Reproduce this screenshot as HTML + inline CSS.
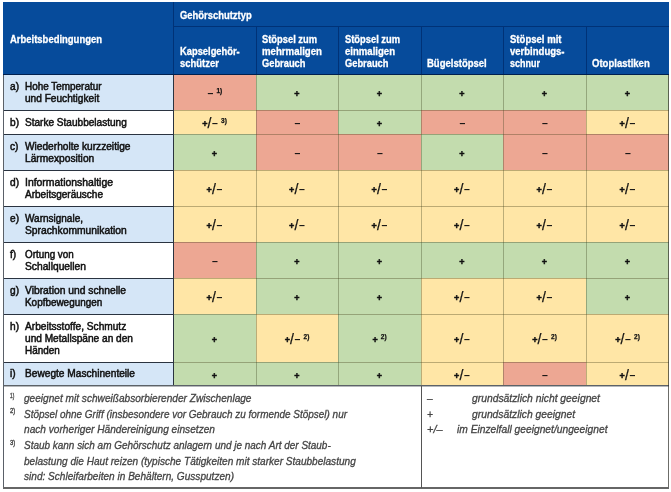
<!DOCTYPE html>
<html lang="de">
<head>
<meta charset="utf-8">
<title>Eignung von Gehörschutztypen nach Arbeitsbedingungen</title>
<style>
html,body{margin:0;padding:0;background:#fff;}
body{width:671px;height:492px;position:relative;overflow:hidden;font-family:"Liberation Sans",sans-serif;font-size:10px;line-height:12px;color:#111;}
.tbl{position:absolute;left:0;top:0;width:671px;height:492px;}
.box,.h,.t,.f,.n,.s,.ln{position:absolute;display:block;}
.h,.t,.f,.n,.s{white-space:nowrap;line-height:12px;transform-origin:0 0;}
.r{background:#eda793;}
.g{background:#c3dcae;}
.y{background:#ffe6a6;}
.b{background:#d5e6f7;}
.hd{background:#064b9b;}
.h{color:#fff;font-weight:bold;font-size:10.6px;-webkit-text-stroke:0.3px #fff;}
.t{color:#111;font-size:10.2px;-webkit-text-stroke:0.5px #111;}
.s{font-weight:bold;text-align:center;color:#111;font-size:10.5px;}
.s i{font-style:normal;font-size:9px;-webkit-text-stroke:0.45px #111;position:relative;top:0.2px;}
.s b{font-size:14px;font-weight:normal;-webkit-text-stroke:0.25px #111;line-height:0;position:relative;top:0.6px;margin:0 0 0 0.2px;}
.s u{text-decoration:none;margin-left:0.6px;}
.s sup{font-size:6.5px;line-height:0;vertical-align:4.3px;margin-left:3.2px;-webkit-text-stroke:0.25px #111;}
.f{font-style:italic;color:#444;font-size:10.6px;-webkit-text-stroke:0.3px #444;}
.n{color:#4a4a4a;font-size:8px;-webkit-text-stroke:0.4px #4a4a4a;}
</style>
</head>
<body>
<main class="tbl" role="table" aria-label="Eignung von Gehörschutztypen nach Arbeitsbedingungen">
<div class="hd box" role="rowgroup" style="left:3px;top:2px;width:666px;height:73px">
<div class="box" role="columnheader" style="left:0;top:0;width:170px;height:72px"><span class="h" style="left:6.5px;top:31px;transform:scaleX(0.8932)">Arbeitsbedingungen</span></div>
<div class="box" role="columnheader" style="left:170px;top:0;width:496px;height:24px"><span class="h" style="left:6.5px;top:7px;transform:scaleX(0.8891)">Gehörschutztyp</span></div>
<div class="box" role="columnheader" style="left:170px;top:24px;width:83px;height:48px"><span class="h" style="left:6.5px;top:19px;transform:scaleX(0.8818)">Kapselgehör-</span><span class="h" style="left:6.5px;top:31px;transform:scaleX(0.8912)">schützer</span></div>
<div class="box" role="columnheader" style="left:253px;top:24px;width:82px;height:48px"><span class="h" style="left:6px;top:7px;transform:scaleX(0.8813)">Stöpsel zum</span><span class="h" style="left:6px;top:19px;transform:scaleX(0.9100)">mehrmaligen</span><span class="h" style="left:6px;top:31px;transform:scaleX(0.8796)">Gebrauch</span></div>
<div class="box" role="columnheader" style="left:335px;top:24px;width:83px;height:48px"><span class="h" style="left:6.5px;top:7px;transform:scaleX(0.8813)">Stöpsel zum</span><span class="h" style="left:6.5px;top:19px;transform:scaleX(0.9034)">einmaligen</span><span class="h" style="left:6.5px;top:31px;transform:scaleX(0.8796)">Gebrauch</span></div>
<div class="box" role="columnheader" style="left:418px;top:24px;width:82px;height:48px"><span class="h" style="left:6px;top:31px;transform:scaleX(0.8981)">Bügelstöpsel</span></div>
<div class="box" role="columnheader" style="left:500px;top:24px;width:83px;height:48px"><span class="h" style="left:6.5px;top:7px;transform:scaleX(0.9018)">Stöpsel mit</span><span class="h" style="left:6.5px;top:19px;transform:scaleX(0.8990)">verbindugs-</span><span class="h" style="left:6.5px;top:31px;transform:scaleX(0.8492)">schnur</span></div>
<div class="box" role="columnheader" style="left:583px;top:24px;width:83px;height:48px"><span class="h" style="left:6.25px;top:31px;transform:scaleX(0.8999)">Otoplastiken</span></div>
</div>
<div class="box" role="rowgroup" style="left:3px;top:74px;width:666px;height:312px">
<div class="box" role="row" style="left:0;top:0px;width:666px;height:36px">
<div class="box b" role="rowheader" style="left:0;top:0;width:170px;height:36px"><span class="t" style="left:6.5px;top:7px;transform:scaleX(0.9931)">a)</span><span class="t" style="left:21.5px;top:7px;transform:scaleX(0.9741)">Hohe Temperatur</span><span class="t" style="left:21.5px;top:19px;transform:scaleX(0.9924)">und Feuchtigkeit</span></div>
<div class="box r" role="cell" style="left:170px;top:0;width:83px;height:36px"><span class="s" style="left:0;top:13px;width:83px"><u>–</u><sup>1)</sup></span></div>
<div class="box g" role="cell" style="left:253px;top:0;width:82px;height:36px"><span class="s" style="left:0;top:13px;width:82px"><i>+</i></span></div>
<div class="box g" role="cell" style="left:335px;top:0;width:83px;height:36px"><span class="s" style="left:0;top:13px;width:83px"><i>+</i></span></div>
<div class="box g" role="cell" style="left:418px;top:0;width:82px;height:36px"><span class="s" style="left:0;top:13px;width:82px"><i>+</i></span></div>
<div class="box g" role="cell" style="left:500px;top:0;width:83px;height:36px"><span class="s" style="left:0;top:13px;width:83px"><i>+</i></span></div>
<div class="box g" role="cell" style="left:583px;top:0;width:83px;height:36px"><span class="s" style="left:0;top:13px;width:83px"><i>+</i></span></div>
</div>
<div class="box" role="row" style="left:0;top:36px;width:666px;height:24px">
<div class="box" role="rowheader" style="left:0;top:0;width:170px;height:24px"><span class="t" style="left:6.5px;top:7px;transform:scaleX(0.9931)">b)</span><span class="t" style="left:21.5px;top:7px;transform:scaleX(0.9870)">Starke Staubbelastung</span></div>
<div class="box y" role="cell" style="left:170px;top:0;width:83px;height:24px"><span class="s" style="left:0;top:7px;width:83px"><i>+</i><b>/</b><u>–</u><sup>3)</sup></span></div>
<div class="box r" role="cell" style="left:253px;top:0;width:82px;height:24px"><span class="s" style="left:0;top:7px;width:82px"><u>–</u></span></div>
<div class="box g" role="cell" style="left:335px;top:0;width:83px;height:24px"><span class="s" style="left:0;top:7px;width:83px"><i>+</i></span></div>
<div class="box r" role="cell" style="left:418px;top:0;width:82px;height:24px"><span class="s" style="left:0;top:7px;width:82px"><u>–</u></span></div>
<div class="box r" role="cell" style="left:500px;top:0;width:83px;height:24px"><span class="s" style="left:0;top:7px;width:83px"><u>–</u></span></div>
<div class="box y" role="cell" style="left:583px;top:0;width:83px;height:24px"><span class="s" style="left:0;top:7px;width:83px"><i>+</i><b>/</b><u>–</u></span></div>
</div>
<div class="box" role="row" style="left:0;top:60px;width:666px;height:36px">
<div class="box b" role="rowheader" style="left:0;top:0;width:170px;height:36px"><span class="t" style="left:6.5px;top:7px;transform:scaleX(0.9931)">c)</span><span class="t" style="left:21.5px;top:7px;transform:scaleX(0.9963)">Wiederholte kurzzeitige</span><span class="t" style="left:21.5px;top:19px;transform:scaleX(1.0023)">Lärmexposition</span></div>
<div class="box g" role="cell" style="left:170px;top:0;width:83px;height:36px"><span class="s" style="left:0;top:13px;width:83px"><i>+</i></span></div>
<div class="box r" role="cell" style="left:253px;top:0;width:82px;height:36px"><span class="s" style="left:0;top:13px;width:82px"><u>–</u></span></div>
<div class="box r" role="cell" style="left:335px;top:0;width:83px;height:36px"><span class="s" style="left:0;top:13px;width:83px"><u>–</u></span></div>
<div class="box g" role="cell" style="left:418px;top:0;width:82px;height:36px"><span class="s" style="left:0;top:13px;width:82px"><i>+</i></span></div>
<div class="box r" role="cell" style="left:500px;top:0;width:83px;height:36px"><span class="s" style="left:0;top:13px;width:83px"><u>–</u></span></div>
<div class="box r" role="cell" style="left:583px;top:0;width:83px;height:36px"><span class="s" style="left:0;top:13px;width:83px"><u>–</u></span></div>
</div>
<div class="box" role="row" style="left:0;top:96px;width:666px;height:36px">
<div class="box" role="rowheader" style="left:0;top:0;width:170px;height:36px"><span class="t" style="left:6.5px;top:7px;transform:scaleX(0.9931)">d)</span><span class="t" style="left:21.5px;top:7px;transform:scaleX(1.0223)">Informationshaltige</span><span class="t" style="left:21.5px;top:19px;transform:scaleX(0.9836)">Arbeitsgeräusche</span></div>
<div class="box y" role="cell" style="left:170px;top:0;width:83px;height:36px"><span class="s" style="left:0;top:13px;width:83px"><i>+</i><b>/</b><u>–</u></span></div>
<div class="box y" role="cell" style="left:253px;top:0;width:82px;height:36px"><span class="s" style="left:0;top:13px;width:82px"><i>+</i><b>/</b><u>–</u></span></div>
<div class="box y" role="cell" style="left:335px;top:0;width:83px;height:36px"><span class="s" style="left:0;top:13px;width:83px"><i>+</i><b>/</b><u>–</u></span></div>
<div class="box y" role="cell" style="left:418px;top:0;width:82px;height:36px"><span class="s" style="left:0;top:13px;width:82px"><i>+</i><b>/</b><u>–</u></span></div>
<div class="box y" role="cell" style="left:500px;top:0;width:83px;height:36px"><span class="s" style="left:0;top:13px;width:83px"><i>+</i><b>/</b><u>–</u></span></div>
<div class="box y" role="cell" style="left:583px;top:0;width:83px;height:36px"><span class="s" style="left:0;top:13px;width:83px"><i>+</i><b>/</b><u>–</u></span></div>
</div>
<div class="box" role="row" style="left:0;top:132px;width:666px;height:36px">
<div class="box b" role="rowheader" style="left:0;top:0;width:170px;height:36px"><span class="t" style="left:6.5px;top:7px;transform:scaleX(0.9931)">e)</span><span class="t" style="left:21.5px;top:7px;transform:scaleX(0.9818)">Warnsignale,</span><span class="t" style="left:21.5px;top:19px;transform:scaleX(1.0095)">Sprachkommunikation</span></div>
<div class="box y" role="cell" style="left:170px;top:0;width:83px;height:36px"><span class="s" style="left:0;top:13px;width:83px"><i>+</i><b>/</b><u>–</u></span></div>
<div class="box y" role="cell" style="left:253px;top:0;width:82px;height:36px"><span class="s" style="left:0;top:13px;width:82px"><i>+</i><b>/</b><u>–</u></span></div>
<div class="box y" role="cell" style="left:335px;top:0;width:83px;height:36px"><span class="s" style="left:0;top:13px;width:83px"><i>+</i><b>/</b><u>–</u></span></div>
<div class="box y" role="cell" style="left:418px;top:0;width:82px;height:36px"><span class="s" style="left:0;top:13px;width:82px"><i>+</i><b>/</b><u>–</u></span></div>
<div class="box y" role="cell" style="left:500px;top:0;width:83px;height:36px"><span class="s" style="left:0;top:13px;width:83px"><i>+</i><b>/</b><u>–</u></span></div>
<div class="box y" role="cell" style="left:583px;top:0;width:83px;height:36px"><span class="s" style="left:0;top:13px;width:83px"><i>+</i><b>/</b><u>–</u></span></div>
</div>
<div class="box" role="row" style="left:0;top:168px;width:666px;height:36px">
<div class="box" role="rowheader" style="left:0;top:0;width:170px;height:36px"><span class="t" style="left:6.5px;top:7px;transform:scaleX(0.9931)">f)</span><span class="t" style="left:21.5px;top:7px;transform:scaleX(0.9671)">Ortung von</span><span class="t" style="left:21.5px;top:19px;transform:scaleX(1.0064)">Schallquellen</span></div>
<div class="box r" role="cell" style="left:170px;top:0;width:83px;height:36px"><span class="s" style="left:0;top:13px;width:83px"><u>–</u></span></div>
<div class="box g" role="cell" style="left:253px;top:0;width:82px;height:36px"><span class="s" style="left:0;top:13px;width:82px"><i>+</i></span></div>
<div class="box g" role="cell" style="left:335px;top:0;width:83px;height:36px"><span class="s" style="left:0;top:13px;width:83px"><i>+</i></span></div>
<div class="box g" role="cell" style="left:418px;top:0;width:82px;height:36px"><span class="s" style="left:0;top:13px;width:82px"><i>+</i></span></div>
<div class="box g" role="cell" style="left:500px;top:0;width:83px;height:36px"><span class="s" style="left:0;top:13px;width:83px"><i>+</i></span></div>
<div class="box g" role="cell" style="left:583px;top:0;width:83px;height:36px"><span class="s" style="left:0;top:13px;width:83px"><i>+</i></span></div>
</div>
<div class="box" role="row" style="left:0;top:204px;width:666px;height:36px">
<div class="box b" role="rowheader" style="left:0;top:0;width:170px;height:36px"><span class="t" style="left:6.5px;top:7px;transform:scaleX(0.9931)">g)</span><span class="t" style="left:21.5px;top:7px;transform:scaleX(1.0094)">Vibration und schnelle</span><span class="t" style="left:21.5px;top:19px;transform:scaleX(0.9740)">Kopfbewegungen</span></div>
<div class="box y" role="cell" style="left:170px;top:0;width:83px;height:36px"><span class="s" style="left:0;top:13px;width:83px"><i>+</i><b>/</b><u>–</u></span></div>
<div class="box g" role="cell" style="left:253px;top:0;width:82px;height:36px"><span class="s" style="left:0;top:13px;width:82px"><i>+</i></span></div>
<div class="box g" role="cell" style="left:335px;top:0;width:83px;height:36px"><span class="s" style="left:0;top:13px;width:83px"><i>+</i></span></div>
<div class="box y" role="cell" style="left:418px;top:0;width:82px;height:36px"><span class="s" style="left:0;top:13px;width:82px"><i>+</i><b>/</b><u>–</u></span></div>
<div class="box y" role="cell" style="left:500px;top:0;width:83px;height:36px"><span class="s" style="left:0;top:13px;width:83px"><i>+</i><b>/</b><u>–</u></span></div>
<div class="box g" role="cell" style="left:583px;top:0;width:83px;height:36px"><span class="s" style="left:0;top:13px;width:83px"><i>+</i></span></div>
</div>
<div class="box" role="row" style="left:0;top:240px;width:666px;height:48px">
<div class="box" role="rowheader" style="left:0;top:0;width:170px;height:48px"><span class="t" style="left:6.5px;top:7px;transform:scaleX(0.9931)">h)</span><span class="t" style="left:21.5px;top:7px;transform:scaleX(0.9952)">Arbeitsstoffe, Schmutz</span><span class="t" style="left:21.5px;top:19px;transform:scaleX(0.9931)">und Metallspäne an den</span><span class="t" style="left:21.5px;top:31px;transform:scaleX(0.9737)">Händen</span></div>
<div class="box g" role="cell" style="left:170px;top:0;width:83px;height:48px"><span class="s" style="left:0;top:19px;width:83px"><i>+</i></span></div>
<div class="box y" role="cell" style="left:253px;top:0;width:82px;height:48px"><span class="s" style="left:0;top:19px;width:82px"><i>+</i><b>/</b><u>–</u><sup>2)</sup></span></div>
<div class="box g" role="cell" style="left:335px;top:0;width:83px;height:48px"><span class="s" style="left:0;top:19px;width:83px"><i>+</i><sup>2)</sup></span></div>
<div class="box y" role="cell" style="left:418px;top:0;width:82px;height:48px"><span class="s" style="left:0;top:19px;width:82px"><i>+</i><b>/</b><u>–</u></span></div>
<div class="box y" role="cell" style="left:500px;top:0;width:83px;height:48px"><span class="s" style="left:0;top:19px;width:83px"><i>+</i><b>/</b><u>–</u><sup>2)</sup></span></div>
<div class="box y" role="cell" style="left:583px;top:0;width:83px;height:48px"><span class="s" style="left:0;top:19px;width:83px"><i>+</i><b>/</b><u>–</u><sup>2)</sup></span></div>
</div>
<div class="box" role="row" style="left:0;top:288px;width:666px;height:24px">
<div class="box b" role="rowheader" style="left:0;top:0;width:170px;height:24px"><span class="t" style="left:6.5px;top:6px;transform:scaleX(0.9931)">i)</span><span class="t" style="left:21.5px;top:6px;transform:scaleX(0.9960)">Bewegte Maschinenteile</span></div>
<div class="box g" role="cell" style="left:170px;top:0;width:83px;height:24px"><span class="s" style="left:0;top:7px;width:83px"><i>+</i></span></div>
<div class="box g" role="cell" style="left:253px;top:0;width:82px;height:24px"><span class="s" style="left:0;top:7px;width:82px"><i>+</i></span></div>
<div class="box g" role="cell" style="left:335px;top:0;width:83px;height:24px"><span class="s" style="left:0;top:7px;width:83px"><i>+</i></span></div>
<div class="box y" role="cell" style="left:418px;top:0;width:82px;height:24px"><span class="s" style="left:0;top:7px;width:82px"><i>+</i><b>/</b><u>–</u></span></div>
<div class="box r" role="cell" style="left:500px;top:0;width:83px;height:24px"><span class="s" style="left:0;top:7px;width:83px"><u>–</u></span></div>
<div class="box y" role="cell" style="left:583px;top:0;width:83px;height:24px"><span class="s" style="left:0;top:7px;width:83px"><i>+</i><b>/</b><u>–</u></span></div>
</div>
</div>
<div class="box" role="note" style="left:3px;top:386px;width:418px;height:102px"><span class="f" style="left:21.4px;top:6px;transform:scaleX(0.9539)">geeignet mit schweißabsorbierender Zwischenlage</span><span class="f" style="left:21.4px;top:22px;transform:scaleX(0.9392)">Stöpsel ohne Griff (insbesondere vor Gebrauch zu formende Stöpsel) nur</span><span class="f" style="left:21.4px;top:37px;transform:scaleX(0.9566)">nach vorheriger Händereinigung einsetzen</span><span class="f" style="left:21.4px;top:53px;transform:scaleX(0.9396)">Staub kann sich am Gehörschutz anlagern und je nach Art der Staub-</span><span class="f" style="left:21.4px;top:69px;transform:scaleX(0.9500)">belastung die Haut reizen (typische Tätigkeiten mit starker Staubbelastung</span><span class="f" style="left:21.4px;top:84px;transform:scaleX(0.9509)">sind: Schleifarbeiten in Behältern, Gussputzen)</span><span class="n" style="left:6.7px;top:4px;transform:scaleX(0.6035)">1)</span><span class="n" style="left:6.7px;top:19px;transform:scaleX(0.7439)">2)</span><span class="n" style="left:6.7px;top:51px;transform:scaleX(0.7439)">3)</span></div>
<div class="box" role="note" style="left:421px;top:386px;width:248px;height:102px"><span class="f" style="left:6.4px;top:6px;transform:scaleX(0.9553)">–</span><span class="f" style="left:6.4px;top:22px;transform:scaleX(0.9553)">+</span><span class="f" style="left:6.4px;top:37px;transform:scaleX(1.0312)">+/–</span><span class="f" style="left:50.9px;top:6px;transform:scaleX(0.9745)">grundsätzlich nicht geeignet</span><span class="f" style="left:50.9px;top:22px;transform:scaleX(0.9716)">grundsätzlich geeignet</span><span class="f" style="left:36.4px;top:37px;transform:scaleX(0.9679)">im Einzelfall geeignet/ungeeignet</span></div>
<div class="box" aria-hidden="true" style="left:0;top:0;width:671px;height:492px">
<i class="ln" style="left:173px;top:26px;width:496px;height:1px;background:#003277"></i>
<i class="ln" style="left:173px;top:2px;width:1px;height:72px;background:#003277"></i>
<i class="ln" style="left:256px;top:26px;width:1px;height:48px;background:#003277"></i>
<i class="ln" style="left:338px;top:26px;width:1px;height:48px;background:#003277"></i>
<i class="ln" style="left:421px;top:26px;width:1px;height:48px;background:#003277"></i>
<i class="ln" style="left:503px;top:26px;width:1px;height:48px;background:#003277"></i>
<i class="ln" style="left:586px;top:26px;width:1px;height:48px;background:#003277"></i>
<i class="ln" style="left:3px;top:74px;width:666px;height:1px;background:#00204f"></i>
<i class="ln" style="left:3px;top:110px;width:170px;height:1px;background:#2a3340"></i>
<i class="ln" style="left:173px;top:110px;width:496px;height:1px;background:rgba(70,65,25,0.36)"></i>
<i class="ln" style="left:3px;top:134px;width:170px;height:1px;background:#2a3340"></i>
<i class="ln" style="left:173px;top:134px;width:496px;height:1px;background:rgba(70,65,25,0.36)"></i>
<i class="ln" style="left:3px;top:170px;width:170px;height:1px;background:#2a3340"></i>
<i class="ln" style="left:173px;top:170px;width:496px;height:1px;background:rgba(70,65,25,0.36)"></i>
<i class="ln" style="left:3px;top:206px;width:170px;height:1px;background:#2a3340"></i>
<i class="ln" style="left:173px;top:206px;width:496px;height:1px;background:rgba(70,65,25,0.36)"></i>
<i class="ln" style="left:3px;top:242px;width:170px;height:1px;background:#2a3340"></i>
<i class="ln" style="left:173px;top:242px;width:496px;height:1px;background:rgba(70,65,25,0.36)"></i>
<i class="ln" style="left:3px;top:278px;width:170px;height:1px;background:#2a3340"></i>
<i class="ln" style="left:173px;top:278px;width:496px;height:1px;background:rgba(70,65,25,0.36)"></i>
<i class="ln" style="left:3px;top:314px;width:170px;height:1px;background:#2a3340"></i>
<i class="ln" style="left:173px;top:314px;width:496px;height:1px;background:rgba(70,65,25,0.36)"></i>
<i class="ln" style="left:3px;top:362px;width:170px;height:1px;background:#2a3340"></i>
<i class="ln" style="left:173px;top:362px;width:496px;height:1px;background:rgba(70,65,25,0.36)"></i>
<i class="ln" style="left:3px;top:385px;width:666px;height:1px;background:#5c6268"></i>
<i class="ln" style="left:3px;top:386px;width:666px;height:1px;background:rgba(92,98,104,0.45)"></i>
<i class="ln" style="left:173px;top:75px;width:1px;height:310px;background:#2a3340"></i>
<i class="ln" style="left:256px;top:75px;width:1px;height:310px;background:rgba(60,65,30,0.34)"></i>
<i class="ln" style="left:338px;top:75px;width:1px;height:310px;background:rgba(60,65,30,0.34)"></i>
<i class="ln" style="left:421px;top:75px;width:1px;height:310px;background:rgba(60,65,30,0.34)"></i>
<i class="ln" style="left:503px;top:75px;width:1px;height:310px;background:rgba(60,65,30,0.34)"></i>
<i class="ln" style="left:586px;top:75px;width:1px;height:310px;background:rgba(60,65,30,0.34)"></i>
<i class="ln" style="left:3px;top:75px;width:1px;height:414px;background:#5a6068"></i>
<i class="ln" style="left:668px;top:75px;width:1px;height:414px;background:rgba(45,45,40,0.7)"></i>
<i class="ln" style="left:3px;top:487px;width:666px;height:2px;background:#666"></i>
<i class="ln" style="left:421px;top:386px;width:1px;height:102px;background:#555"></i>
</div>
</main>
</body>
</html>
